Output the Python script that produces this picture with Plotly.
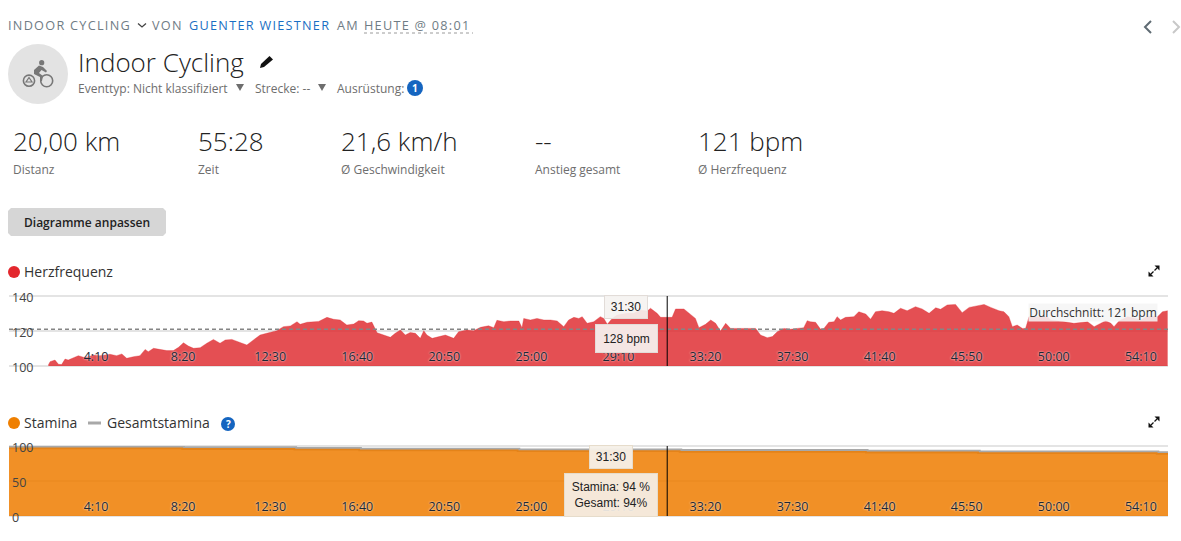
import plotly.graph_objects as go

W = 1181
H = 541

# heart rate, seconds and bpm
hr_time = [113, 118, 132, 142, 151, 161, 170, 180, 199, 214, 228, 242, 261, 290, 309, 324, 338, 357, 376, 391,
           400, 415, 434, 453, 472, 487, 501, 515, 530, 549, 568, 587, 606, 621, 640, 659, 683, 702, 721, 740,
           769, 788, 808, 827, 836, 856, 875, 889, 913, 932, 951, 970, 990, 1004, 1018, 1028, 1042, 1057, 1076,
           1095, 1109, 1124, 1138, 1152, 1167, 1181, 1191, 1200, 1215, 1234, 1253, 1277, 1291, 1315, 1334, 1354,
           1377, 1392, 1401, 1421, 1440, 1464, 1473, 1478, 1497, 1516, 1536, 1555, 1574, 1593, 1607, 1622, 1636,
           1646, 1660, 1679, 1698, 1708, 1718, 1732, 1746, 1775, 1794, 1813, 1833, 1842, 1861, 1871, 1904, 1914,
           1938, 1957, 1971, 1981, 2000, 2015, 2029, 2043, 2058, 2072, 2091, 2110, 2130, 2144, 2158, 2177, 2192,
           2206, 2225, 2244, 2263, 2282, 2292, 2301, 2316, 2330, 2340, 2354, 2369, 2378, 2388, 2402, 2426, 2440,
           2460, 2474, 2488, 2507, 2527, 2541, 2560, 2579, 2603, 2622, 2642, 2661, 2675, 2694, 2718, 2737, 2757,
           2776, 2800, 2819, 2843, 2857, 2871, 2881, 2895, 2910, 2919, 2929, 2943, 2982, 2991, 3010, 3030, 3058,
           3077, 3097, 3116, 3135, 3149, 3164, 3173, 3188, 3212, 3236, 3250, 3269, 3298, 3312, 3327]
hr_bpm = [100.6, 102.5, 103.4, 101, 100.8, 104, 103.4, 104.4, 105.9, 105, 105.3, 106.3, 105.9, 106.7, 105.9, 106.9,
          104.4, 105.3, 105.9, 109.5, 108.2, 110.1, 109.5, 108.8, 108.8, 110.7, 113.3, 111.4, 110.1, 110.5, 113,
          115.2, 113, 114.9, 115.2, 113.9, 112, 114.9, 117.7, 118.7, 120.2, 122.5, 122.9, 125.3, 123.8, 125, 125.3,
          125.5, 127.8, 126.7, 126.3, 123.4, 124, 125.9, 125.7, 124.4, 125.1, 119, 117.7, 116.4, 118.7, 120.6,
          117.7, 119.2, 118.7, 115.8, 120.2, 117.7, 115.8, 116.8, 117.7, 115.8, 119.6, 120.6, 120.2, 122.1, 123,
          121.9, 126.1, 125.3, 125.7, 125.7, 121.9, 127.2, 126.3, 127.2, 126.3, 126.3, 125.7, 122.5, 126.3, 127.8,
          127.2, 128.2, 124.4, 125.3, 128.2, 127.2, 123.8, 127.2, 129.1, 130.1, 130.1, 132, 131.4, 133, 130.1, 127.8,
          127.8, 132.6, 132.6, 129.5, 127.2, 121.9, 123.8, 126.3, 124.4, 120, 124.4, 121.5, 121.5, 121.9, 121.9,
          121.5, 117.7, 116.2, 116.8, 119.6, 121.5, 121, 121.5, 121.9, 125.9, 125.3, 125, 121.1, 121.5, 125, 125.3,
          128.2, 126.3, 127.8, 128.2, 131, 129.7, 126.7, 131, 131.6, 131, 130.1, 133, 131.6, 133.9, 132.6, 130.1,
          133.3, 132.4, 134.9, 135.2, 130.5, 133.5, 134.3, 135.2, 133.5, 131.6, 131, 128.2, 122.5, 123.4, 121.5,
          121.5, 128.2, 128.2, 128.2, 126.3, 125.9, 125.3, 124.4, 124.8, 125.3, 122.5, 124.4, 125.9, 124.4, 122.5,
          125.9, 128.2, 127.2, 126.3, 128.6, 128.2, 131, 131.6]
hr_avg = [121, 121]
avg_time = [0, 3328]

# stamina drops one percent at these times
stamina_time = [0, 500, 822, 1008, 1463, 1928, 2463, 2785, 3298, 3328]
stamina_pct = [98, 97, 96, 95, 94, 93, 92, 91, 90, 90]
total_pct = [98, 97, 96, 95, 94, 93, 92, 91, 90, 90]

cursor_time = 1890
tick_secs = [250, 500, 750, 1000, 1250, 1500, 1750, 2000, 2250, 2500, 2750, 3000, 3250]
tick_text = ["4:10", "8:20", "12:30", "16:40", "20:50", "25:00", "29:10", "33:20", "37:30", "41:40", "45:50", "50:00", "54:10"]
hr_ticks = [100, 120, 140]
stamina_ticks = [0, 50, 100]

stat_values = ["20,00 km", "55:28", "21,6 km/h", "--", "121 bpm"]
stat_labels = ["Distanz", "Zeit", "Ø Geschwindigkeit", "Anstieg gesamt", "Ø Herzfrequenz"]
stat_x = [13, 198, 341, 535, 698]

FONT = "Open Sans"
TIP = "Liberation Sans"
GREY = "#6e6e6e"


def px(x):
    return x / W


def py(y):
    return 1 - y / H


def poly(pts, close=True):
    s = "M" + " L".join(f"{px(x):.5f},{py(y):.5f}" for x, y in pts)
    return s + (" Z" if close else "")


def spaced(s):
    return "\u200a".join(s)


shapes = []
notes = []


def text(x, y, s, size=12, color=GREY, anchor="left", family=FONT, weight=None, **kw):
    if anchor == "left":
        x -= 1  # annotations sit a pixel to the right
    notes.append(dict(x=px(x), y=py(y), xref="paper", yref="paper", text=s, showarrow=False, xanchor=anchor,
                      yanchor="middle", font=dict(family=family, size=size, color=color, weight=weight),
                      borderpad=0, **kw))


def circle(x, y, r, fill, line=None, width=0):
    shapes.append(dict(type="circle", xref="paper", yref="paper", x0=px(x - r), x1=px(x + r), y0=py(y + r), y1=py(y - r),
                       fillcolor=fill, line=dict(color=line or fill, width=width)))


def path(pts, fill=None, line=None, width=0, close=True, layer="above", dash=None):
    shapes.append(dict(type="path", xref="paper", yref="paper", path=poly(pts, close), fillcolor=fill or "rgba(0,0,0,0)",
                       line=dict(color=line or "rgba(0,0,0,0)", width=width, dash=dash), layer=layer))


def expand_icon(cx, cy):
    path([(cx + 5.5, cy - 5.5), (cx + 0.5, cy - 5.5), (cx + 5.5, cy - 0.5)], fill="#111")
    path([(cx - 5.5, cy + 5.5), (cx - 0.5, cy + 5.5), (cx - 5.5, cy + 0.5)], fill="#111")
    path([(cx + 3, cy - 3), (cx + 0.5, cy - 0.5)], line="#111", width=1.2, close=False)
    path([(cx - 3, cy + 3), (cx - 0.5, cy + 0.5)], line="#111", width=1.2, close=False)


# top line
text(8, 25, spaced("INDOOR CYCLING"), size=12.7, color="#6f7c85")
path([(138, 23.5), (142, 27), (146, 23.5)], line="#444", width=1.3, close=False)
text(152, 25, spaced("VON"), size=12.7, color="#6f7c85")
text(189, 25, spaced("GUENTER WIESTNER"), size=12.7, color="#1a6fc4")
text(337, 25, spaced("AM"), size=12.7, color="#6f7c85")
text(364, 25, spaced("HEUTE @ 08:01"), size=12.7, color="#6f7c85")
path([(364, 33), (473, 33)], line="#9a9a9a", width=1, close=False, dash="dot")
path([(1151, 21), (1145, 27), (1151, 33)], line="#5f6b73", width=2, close=False)
path([(1173, 21), (1179, 27), (1173, 33)], line="#c8c8c8", width=2, close=False)

# activity icon
circle(38, 74, 30, "#e3e3e3")
circle(41.7, 62.7, 2.6, "#777")
circle(29, 80.7, 5.6, "rgba(0,0,0,0)", "#777", 1.6)
circle(46.7, 80.7, 6, "rgba(0,0,0,0)", "#777", 1.6)
path([(29, 77.5), (32, 82), (26, 82)], line="#777", width=1.2)
path([(34, 70), (39, 65.5), (43, 67), (47, 71), (46, 72.5), (41.5, 70), (39, 73), (43, 76), (42, 81), (40, 81), (40, 77), (34, 74)], fill="#777")

text(78, 62, "Indoor Cycling", size=26, color="#222", weight=300)
path([(269.5, 56), (273, 59.5), (264, 67), (260, 68), (261, 64)], fill="#111")
text(78, 88, "Eventtyp: Nicht klassifiziert")
path([(236, 84), (244, 84), (240, 91)], fill=GREY)
text(255, 88, "Strecke: --")
path([(318, 84), (326, 84), (322, 91)], fill=GREY)
text(337, 88, "Ausrüstung:")
circle(415, 88, 8, "#1565c0")
text(415, 88, "1", size=10, color="white", anchor="center", weight=700)

for x, v, l in zip(stat_x, stat_values, stat_labels):
    text(x, 141, v, size=26, color="#222", weight=300)
    text(x, 169.6, l)

# button
path([(11, 208), (163, 208), (166, 211), (166, 233), (163, 236), (11, 236), (8, 233), (8, 211)], fill="#d6d6d6")
text(87, 222, "Diagramme anpassen", size=12, color="#222", anchor="center", weight=600)

# legends
circle(14, 272, 6, "#e3272d")
text(24, 271, "Herzfrequenz", size=14, color="#333")
expand_icon(1154, 271)
circle(14, 423, 6, "#ef7f00")
text(24, 422, "Stamina", size=14, color="#333")
path([(88, 423), (101, 423)], line="#a8a8a8", width=3, close=False)
text(107, 422, "Gesamtstamina", size=14, color="#333")
circle(228, 424, 7, "#1565c0")
text(228, 424, "?", size=10, color="white", anchor="center", weight=700)
expand_icon(1154, 422)

# y labels sit inside the plot and hang over its edges
for xref, yref, vals in [("x", "y", hr_ticks), ("x2", "y2", stamina_ticks)]:
    for v in vals:
        notes.append(dict(x=3, y=v, xref=xref, yref=yref, text=str(v), showarrow=False, xanchor="left", yanchor="middle",
                          yshift=-1, font=dict(family=FONT, size=12.5, color="#444")))

# tooltips
text(1093, 312, "Durchschnitt: 121 bpm", size=12, color="#333", anchor="center", bgcolor="rgba(245,245,245,0.88)", width=128, height=17)
text(626, 307, "31:30", size=12, color="#222", anchor="center", family=TIP, bgcolor="rgba(245,243,241,0.9)", bordercolor="#e2dcd8", borderwidth=1, width=42, height=22)
text(626.5, 338, "128 bpm", size=12, color="#222", anchor="center", family=TIP, bgcolor="rgba(245,238,236,0.95)", bordercolor="#e2dcd8", borderwidth=1, width=61, height=27)
text(611, 457, "31:30", size=12, color="#222", anchor="center", family=TIP, bgcolor="rgba(245,240,232,0.95)", bordercolor="#e6dccb", borderwidth=1, width=42, height=22)
text(611, 495, "Stamina: 94 %<br>Gesamt: 94%", size=12, color="#222", anchor="center", family=TIP, bgcolor="rgba(245,240,232,0.92)", bordercolor="#e6dccb", borderwidth=1, width=92, height=42)

# cursor lines
for xref, yref in [("x", "y domain"), ("x2", "y2 domain")]:
    shapes.append(dict(type="line", xref=xref, yref=yref, x0=cursor_time, x1=cursor_time, y0=0, y1=1,
                       line=dict(color="black", width=1)))

# plotly drops grid lines on the range edge and clips shapes there, so use paper coordinates
for top, bottom, vals in [(296, 366, hr_ticks), (446, 516, stamina_ticks)]:
    for v in vals:
        frac = (v - vals[0]) / (vals[-1] - vals[0])
        y = bottom + (top - bottom) * frac
        shapes.append(dict(type="line", xref="paper", yref="paper", x0=px(9), x1=px(1168), y0=py(y), y1=py(y), layer="below",
                           line=dict(color="#e4e4e4", width=2)))

fig = go.Figure()
fig.add_trace(go.Scatter(x=hr_time, y=hr_bpm, mode="lines", fill="tozeroy", fillcolor="rgba(221,35,40,0.8)",
                         line=dict(color="rgba(221,35,40,0.6)", width=0.5), xaxis="x", yaxis="y"))
fig.add_trace(go.Scatter(x=avg_time, y=hr_avg, mode="lines", line=dict(color="#858585", width=1.5, dash="4px,3px"),
                         xaxis="x", yaxis="y"))
fig.add_trace(go.Scatter(x=stamina_time, y=total_pct, mode="lines", line=dict(color="#a8a8a8", width=3.6, shape="hv"),
                         xaxis="x2", yaxis="y2"))
fig.add_trace(go.Scatter(x=stamina_time, y=stamina_pct, mode="lines", fill="tozeroy", fillcolor="rgba(238,125,0,0.85)",
                         line=dict(color="rgba(0,0,0,0)", width=0, shape="hv"), xaxis="x2", yaxis="y2"))

xax = dict(range=[0, 3328], tickmode="array", tickvals=tick_secs, ticktext=tick_text, ticklabelposition="inside",
           showgrid=False, zeroline=False, showline=False, ticks="", fixedrange=True,
           tickfont=dict(family=FONT, size=12.5, color="#1c2733", shadow="0px 0px 2px #fff"))
yax = dict(showticklabels=False, showgrid=False, zeroline=False, showline=False, ticks="", fixedrange=True)

fig.update_layout(
    width=W, height=H, margin=dict(l=0, r=0, t=0, b=0), paper_bgcolor="white", plot_bgcolor="white", showlegend=False,
    xaxis=dict(domain=[px(9), px(1168)], anchor="y", **xax),
    yaxis=dict(domain=[py(366), py(296)], anchor="x", range=[100, 140], **yax),
    xaxis2=dict(domain=[px(9), px(1168)], anchor="y2", **xax),
    yaxis2=dict(domain=[py(516), py(446)], anchor="x2", range=[0, 100], **yax),
    shapes=shapes, annotations=notes,
)

fig.write_html("out.html", config=dict(displayModeBar=False),
               post_script="document.body.style.margin='0';document.body.style.overflow='hidden';")
